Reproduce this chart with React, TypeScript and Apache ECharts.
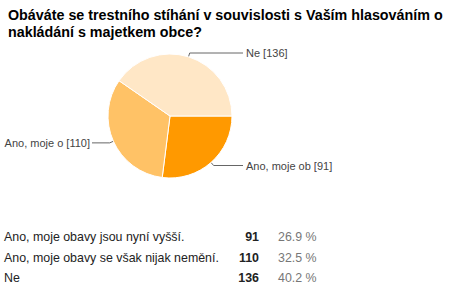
import React, { useEffect, useRef } from "react";
import * as echarts from "echarts";

const titleText = "Obáváte se trestního stíhání v souvislosti s Vaším hlasováním o\nnakládání s majetkem obce?";
const sliceLabels = ["Ano, moje ob", "Ano, moje o", "Ne"];
const answers = ["Ano, moje obavy jsou nyní vyšší.", "Ano, moje obavy se však nijak nemění.", "Ne"];
const counts = [91, 110, 136];
const percents = ["26.9 %", "32.5 %", "40.2 %"];
const colors = ["#ff9900", "#ffc266", "#ffe7c6"];

export default function App() {
  const ref = useRef<HTMLDivElement>(null);
  useEffect(() => {
    if (!ref.current) return;
    const chart = echarts.init(ref.current, null, { renderer: "svg" });
    const font = "Liberation Sans, Arial, sans-serif";
    const rowY = [237, 257.5, 277.5];
    const graphics: any[] = [];
    answers.forEach((a, i) => {
      graphics.push({
        type: "text", x: 4, y: rowY[i],
        style: { text: a, font: `12.4px ${font}`, fill: "#222", verticalAlign: "middle" },
      });
      graphics.push({
        type: "text", x: 259, y: rowY[i],
        style: { text: String(counts[i]), font: `bold 12.4px ${font}`, fill: "#222", align: "right", verticalAlign: "middle" },
      });
      graphics.push({
        type: "text", x: 278, y: rowY[i],
        style: { text: percents[i], font: `12.4px ${font}`, fill: "#777", align: "left", verticalAlign: "middle" },
      });
    });
    chart.setOption({
      animation: false,
      title: {
        text: titleText, left: 3, top: 1,
        textStyle: { fontFamily: font, fontSize: 14.3, fontWeight: "bold", color: "#000", lineHeight: 17.5 },
      },
      color: colors,
      graphic: graphics,
      series: [
        {
          type: "pie",
          center: [170, 116],
          radius: 62,
          startAngle: 0,
          clockwise: true,
          itemStyle: { borderColor: "#fff", borderWidth: 1 },
          label: {
            formatter: (p: any) => `${p.name} [${p.value}]`,
            fontFamily: font, fontSize: 11, color: "#444",
            overflow: "none",
          },
          labelLine: { show: true, length: 4, length2: 20, lineStyle: { color: "#666", width: 1 } },
          labelLayout: (p: any) => {
            const pts = p.labelLinePoints;
            if (!pts) return {};
            const p0 = pts[0];
            const dx = p0[0] - 170, dy = p0[1] - 116;
            const len = Math.sqrt(dx * dx + dy * dy) || 1;
            const p1 = [p0[0] + (dx / len) * 4, p0[1] + (dy / len) * 4];
            const right = dx >= 0;
            const xEnd = right ? 243 : 92;
            return {
              x: right ? 246 : 90,
              y: p1[1],
              align: right ? "left" : "right",
              verticalAlign: "middle",
              labelLinePoints: [p0, p1, [xEnd, p1[1]]],
            };
          },
          data: sliceLabels.map((n, i) => ({ name: n, value: counts[i] })),
        },
      ],
    });
    return () => chart.dispose();
  }, []);
  return <div ref={ref} style={{ width: 450, height: 290, position: "absolute", left: 0, top: 0 }} />;
}
